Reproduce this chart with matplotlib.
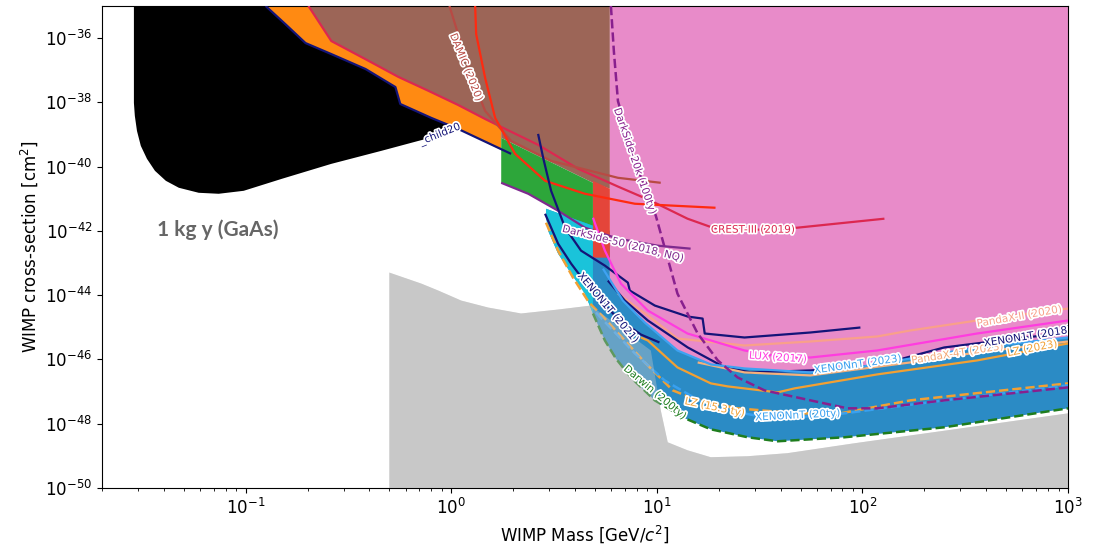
import numpy as np
import matplotlib
matplotlib.use("Agg")
import matplotlib.pyplot as plt
import matplotlib.patheffects as pe
from matplotlib.ticker import FixedLocator, NullLocator, LogFormatterSciNotation

TOP = 1e-35
BOT = 1e-51

# ---------------- data (mass in GeV/c^2, cross-section in cm^2) ----------------
# lower-left boundary of the black (GaAs 1 kg y) region
black_m = [0.0286, 0.0286, 0.0289, 0.0296, 0.0309, 0.0331, 0.0362, 0.0409, 0.0473, 0.0591, 0.0739,
           0.0978, 0.150, 0.261, 0.457, 0.691, 1.07]
black_s = [TOP, 9.6e-39, 3.78e-39, 1.29e-39, 4.43e-40, 1.75e-40, 7.41e-41, 3.62e-41, 2.20e-41, 1.535e-41,
           1.43e-41, 1.77e-41, 4.18e-41, 1.22e-40, 3.1e-40, 6.3e-40, 1.29e-39]
# navy boundary line ("_child20")
navy_m = [0.125, 0.156, 0.1955, 0.261, 0.383, 0.535, 0.565, 0.80, 1.08, 1.955]
navy_s = [TOP, 2.72e-36, 7.0e-37, 3.18e-37, 1.09e-37, 3.0e-38, 8.9e-39, 3.28e-39, 1.49e-39, 2.5e-40]
# CREST-III (2019)
crest_m = [0.202, 0.261, 0.383, 0.553, 0.773, 1.08, 1.46, 1.75, 2.65, 4.14, 6.47, 9.35, 14.1, 18.7, 30.9, 48.3, 128]
crest_s = [TOP, 8.1e-37, 2.2e-37, 6.2e-38, 2.3e-38, 8.3e-39, 3.05e-39, 1.72e-39, 4.75e-40, 8.6e-41,
           2.4e-41, 8.7e-42, 2.4e-42, 1.26e-42, 1.09e-42, 1.26e-42, 2.4e-42]
# brown region lower edge (after CREST part)
brown_m = [1.75, 4.89, 5.91, 5.91]
brown_s = [7.84e-40, 3.14e-41, 2.05e-41, TOP]
# orange region closing point
orange_m = [1.75]
orange_s = [3.32e-40]
# green region top
green_m = [1.75, 4.89, 4.89]
green_s = [7.84e-40, 3.14e-41, 1.0e-42]
# DarkSide-50 (2018, NQ)
ds50_m = [1.75, 2.37, 3.31, 4.47, 6.47, 10.1, 14.6]
ds50_s = [3.14e-41, 1.43e-41, 4.24e-42, 1.26e-42, 5.73e-43, 3.47e-43, 2.80e-43]
# red strip
redstrip_m = [4.89, 5.91, 5.91, 4.89]
redstrip_s = [3.62e-41, 2.05e-41, 1.47e-43, 1.47e-43]
# pink region lower edge
pink_m = [5.91, 6.84, 8.74, 12.6, 18.3, 26.7, 55.9, 94.6, 171, 361, 1000]
pink_s = [2.84e-44, 6.79e-45, 1.41e-45, 1.90e-46, 7.0e-47, 5.25e-47, 3.95e-47, 5.65e-47, 1.07e-46, 2.36e-46, 4.82e-46]
# blue band: top-left edge and left edge
bandtop_m = [2.89, 4.89, 5.91]
bandtop_s = [4.89e-42, 1.45e-42, 1.01e-42]
bandleft_m = [2.89, 2.96, 3.31, 3.83, 4.47, 4.89]
bandleft_s = [2.96e-42, 1.01e-42, 1.96e-43, 4.69e-44, 1.12e-44, 2.69e-45]
# Darwin (200ty)
darwin_m = [4.89, 5.59, 6.32, 7.48, 9.78, 13.7, 18.3, 27.7, 38.7, 81.8, 250, 1000]
darwin_s = [2.69e-45, 3.89e-46, 1.07e-46, 2.76e-47, 5.33e-48, 1.47e-48, 6.70e-49, 3.78e-49, 2.84e-49, 3.78e-49, 7.73e-49, 3.01e-48]
# grey region
gray_m = [0.5, 0.5, 0.715, 0.865, 1.118, 1.512, 2.187, 3.31, 4.78, 9.35, 10.45, 11.3, 14.1, 18.3, 27.7, 43.2, 91.4, 259, 1000, 1000]
gray_s = [BOT, 5.04e-44, 2.29e-44, 1.39e-44, 6.79e-45, 4.12e-45, 2.69e-45, 3.57e-45, 4.75e-45, 1.90e-46,
          2.61e-48, 2.64e-49, 1.49e-49, 9.05e-50, 9.73e-50, 1.21e-49, 2.46e-49, 6.24e-49, 2.10e-48, BOT]

# lines
damic_m = [0.98, 1.118, 1.279, 1.462, 1.955, 3.06, 6.47, 10.45]
damic_s = [TOP, 6.51e-37, 4.62e-38, 5.41e-39, 6.33e-40, 1.514e-40, 4.49e-41, 3.14e-41]
red_m = [1.307, 1.322, 1.462, 1.635, 2.045, 2.86, 4.47, 7.82, 19.3]
red_s = [TOP, 1.33e-36, 5.73e-38, 3.28e-39, 2.5e-40, 3.62e-41, 1.43e-41, 7.0e-42, 5.25e-42]
step_m = [2.645, 2.80, 3.06, 3.58, 4.28, 5.59, 7.23, 7.39, 9.78, 14.14, 16.7, 17.1, 26.7, 55.9, 97.8]
step_s = [1.045e-39, 1.88e-40, 1.77e-41, 1.26e-42, 2.43e-43, 8.3e-44, 2.46e-44, 1.39e-44, 4.75e-45,
          2.16e-45, 1.87e-45, 6.41e-46, 4.82e-46, 6.90e-46, 9.86e-46]
x1t21_m = [2.86, 3.31, 3.83, 4.89, 6.47, 8.36, 10.3]
x1t21_s = [3.42e-42, 4.0e-43, 9.57e-44, 1.2e-44, 1.87e-45, 5.97e-46, 3.37e-46]
x1t18_m = [5.78, 6.99, 9.04, 12.6, 14.14, 21.4, 28.6, 55.9, 118, 250, 391, 1000]
x1t18_s = [2.84e-44, 6.79e-45, 1.63e-45, 3.89e-46, 2.36e-46, 5.65e-47, 3.95e-47, 4.55e-47, 6.52e-47, 2.36e-46, 3.37e-46, 6.9e-46]
lux_m = [4.89, 5.59, 6.69, 9.04, 14.1, 26.7, 38.7, 55.9, 118, 361, 1000]
lux_s = [2.57e-42, 2.43e-43, 2.29e-44, 3.32e-45, 6.41e-46, 1.90e-46, 1.24e-46, 1.15e-46, 1.90e-46, 6.41e-46, 1.63e-45]
pdx2_m = [6.47, 9.04, 12.6, 26.7, 55.9, 118, 171, 361, 1000]
pdx2_s = [1.12e-44, 2.32e-45, 4.49e-46, 2.72e-46, 3.62e-46, 5.18e-46, 7.96e-46, 1.63e-45, 3.84e-45]
xnt23_m = [5.47, 6.84, 8.74, 12.6, 18.3, 26.7, 55.9, 94.6, 171, 361, 1000]
xnt23_s = [6.70e-44, 6.79e-45, 1.41e-45, 1.90e-46, 7.0e-47, 5.25e-47, 3.95e-47, 5.65e-47, 1.07e-46, 2.36e-46, 4.82e-46]
pdx4_m = [15.8, 26.7, 55.9, 171, 361, 1000]
pdx4_s = [8.07e-47, 3.95e-47, 3.18e-47, 8.07e-47, 1.65e-46, 3.62e-46]
lz23_m = [8.36, 9.04, 12.6, 18.3, 22.1, 38.7, 46.8, 118, 361, 1000]
lz23_s = [4.82e-46, 3.89e-46, 5.65e-47, 1.80e-47, 1.45e-47, 9.44e-48, 1.26e-47, 3.42e-47, 9.31e-47, 3.14e-46]
lz15_m = [2.89, 3.31, 3.91, 4.68, 5.59, 6.99, 8.84, 11.95, 15.8, 24.7, 48.3, 78.2, 171, 1000]
lz15_s = [1.80e-42, 2.43e-43, 3.52e-44, 5.89e-45, 1.87e-45, 3.89e-46, 7.51e-47, 1.09e-47, 5.33e-48,
          3.01e-48, 2.10e-48, 2.10e-48, 5.33e-48, 1.80e-47]
xnt20_m = [5.06, 7.82, 10.9, 18.3, 29.9, 48.3, 81.8, 250, 1000]
xnt20_s = [2.88e-45, 1.54e-46, 2.23e-47, 3.23e-48, 1.82e-48, 1.58e-48, 2.10e-48, 5.33e-48, 1.56e-47]
ds20k_m = [5.98, 6.18, 6.47, 7.82, 9.89, 12.6, 15.8, 19.8, 24.7, 33.4, 55.9, 84.6, 118, 250, 1000]
ds20k_s = [TOP, 3.95e-37, 1.10e-38, 1.514e-40, 2.96e-42, 1.12e-44, 6.41e-46, 9.31e-47, 2.76e-47,
           1.09e-47, 5.33e-48, 3.01e-48, 3.01e-48, 5.33e-48, 1.35e-47]

# labels: text, mass, sigma, rotation, colour, ha
labels = [
    ("DAMIC (2020)", 1.18, 1.26e-37, -68, "#b84a44", "center"),
    ("_child20", 0.884, 1.0e-39, 22, "#141478", "center"),
    ("DarkSide-20k (100ty)", 7.82, 1.5e-40, -71, "#88208e", "center"),
    ("CREST-III (2019)", 29.2, 1.09e-42, 0, "#dc2850", "center"),
    ("DarkSide-50 (2018, NQ)", 6.84, 4.0e-43, -14, "#7e2a8e", "center"),
    ("XENON1T (2021)", 5.78, 4.12e-45, -50, "#141478", "center"),
    ("Darwin (200ty)", 9.78, 9.44e-48, -40, "#1e7d1e", "center"),
    ("LZ (15.3 ty)", 19.1, 3.23e-48, -12, "#f2a033", "center"),
    ("XENONnT (20ty)", 48.3, 1.82e-48, 3, "#38a0f0", "center"),
    ("LUX (2017)", 38.7, 1.15e-46, -4, "#ff3ce0", "center"),
    ("XENONnT (2023)", 94.6, 7.0e-47, 8, "#38a0f0", "center"),
    ("PandaX-4T (2023)", 289, 1.54e-46, 9, "#f4a878", "center"),
    ("LZ (2023)", 669, 2.2e-46, 11, "#f2a033", "center"),
    ("XENON1T (2018)", 390, 3.14e-46, 9, "#141478", "left"),
    ("PandaX-II (2020)", 578, 2.16e-45, 10, "#f9a08a", "center"),
]

# ---------------- figure ----------------
fig = plt.figure(figsize=(10.93, 5.47), dpi=100)
ax = fig.add_axes([0.0933, 0.1079, 0.8838, 0.8812])
ax.set_xscale("log")
ax.set_yscale("log")

# grey floor
ax.fill(gray_m, gray_s, color="#c8c8c8", lw=0, zorder=1)

# black region
bx = black_m + navy_m[-2::-1]
by = black_s + navy_s[-2::-1]
ax.fill(bx, by, color="black", lw=0, zorder=2)

# orange region
ox = [0.125] + crest_m[:8] + orange_m + navy_m[-2::-1]
oy = [TOP] + crest_s[:8] + orange_s + navy_s[-2::-1]
ax.fill(ox, oy, color="#ff8a12", lw=0, zorder=2)

# brown region
brx = crest_m[:8] + brown_m
bry = crest_s[:8] + brown_s
ax.fill(brx, bry, color="#9c6557", lw=0, zorder=2)

# green region
gx = green_m + ds50_m[3::-1]
gy = green_s + ds50_s[3::-1]
ax.fill(gx, gy, color="#2da63a", lw=0, zorder=2)

# blue band
bandx = bandtop_m + pink_m + darwin_m[::-1] + bandleft_m[::-1]
bandy = bandtop_s + pink_s + darwin_s[::-1] + bandleft_s[::-1]
ax.fill(bandx, bandy, color="#2b8bc5", lw=0, zorder=2)

# cyan part
cx = bandtop_m[:2] + bandleft_m[::-1]
cy = bandtop_s[:2] + bandleft_s[::-1]
ax.fill(cx, cy, color="#1ac3da", lw=0, zorder=2.1)

# pink region
px = [pink_m[0]] + pink_m + [pink_m[-1]]
py = [TOP] + pink_s + [TOP]
ax.fill(px, py, color="#e88bc9", lw=0, zorder=2.2)

# red strip
ax.fill(redstrip_m, redstrip_s, color="#e4453a", lw=0, zorder=2.3)

# lines
def line(m, s, c, ls="-", lw=1.6):
    ax.plot(m, s, color=c, ls=ls, lw=lw, zorder=3, solid_capstyle="butt")

line(navy_m, navy_s, "#141478", lw=1.6)
line(crest_m, crest_s, "#dc2850")
line(damic_m, damic_s, "#b84a44")
line(red_m, red_s, "#ff2a10")
line(ds50_m, ds50_s, "#7e2a8e")
line(step_m, step_s, "#141478")
line(x1t21_m, x1t21_s, "#141478")
line(pdx2_m, pdx2_s, "#f9a08a")
line(lux_m, lux_s, "#ff3ce0")
line(x1t18_m, x1t18_s, "#141478")
line(pdx4_m, pdx4_s, "#f4b07c")
line(xnt23_m, xnt23_s, "#3fa2f2")
line(lz23_m, lz23_s, "#f2a033")
line(lz15_m, lz15_s, "#f2a033", ls="--", lw=1.8)
line(xnt20_m, xnt20_s, "#38a0f0", ls="--", lw=1.8)
line(ds20k_m, ds20k_s, "#88208e", ls="--", lw=1.8)
line(darwin_m, darwin_s, "#1e7d1e", ls="--", lw=1.8)

# translucent grey over the band
ax.fill(gray_m, gray_s, color="#c8c8c8", alpha=0.38, lw=0, zorder=3.5)

# labels
for txt, m, s, rot, col, ha in labels:
    ax.text(m, s, txt, rotation=rot, color=col, fontsize=7.5, ha=ha, va="center",
            rotation_mode="anchor", zorder=6, clip_on=True,
            path_effects=[pe.withStroke(linewidth=2.5, foreground="white")])

ax.text(0.057, 0.535, "1 kg y (GaAs)", transform=ax.transAxes, fontsize=15,
        fontfamily="Lato", fontweight="bold", color="#666666", ha="left", va="center", zorder=6)

# axes
ax.set_xlim(0.02, 1000)
ax.set_ylim(1e-50, TOP)
ax.yaxis.set_major_locator(FixedLocator([1e-50, 1e-48, 1e-46, 1e-44, 1e-42, 1e-40, 1e-38, 1e-36]))
ax.yaxis.set_major_formatter(LogFormatterSciNotation())
ax.yaxis.set_minor_locator(NullLocator())
ax.tick_params(axis="both", which="major", labelsize=12)
ax.set_xlabel(r"WIMP Mass [GeV/$c^2$]", fontsize=12)
ax.set_ylabel(r"WIMP cross-section [cm$^2$]", fontsize=12)

fig.savefig("out.png", dpi=100)
